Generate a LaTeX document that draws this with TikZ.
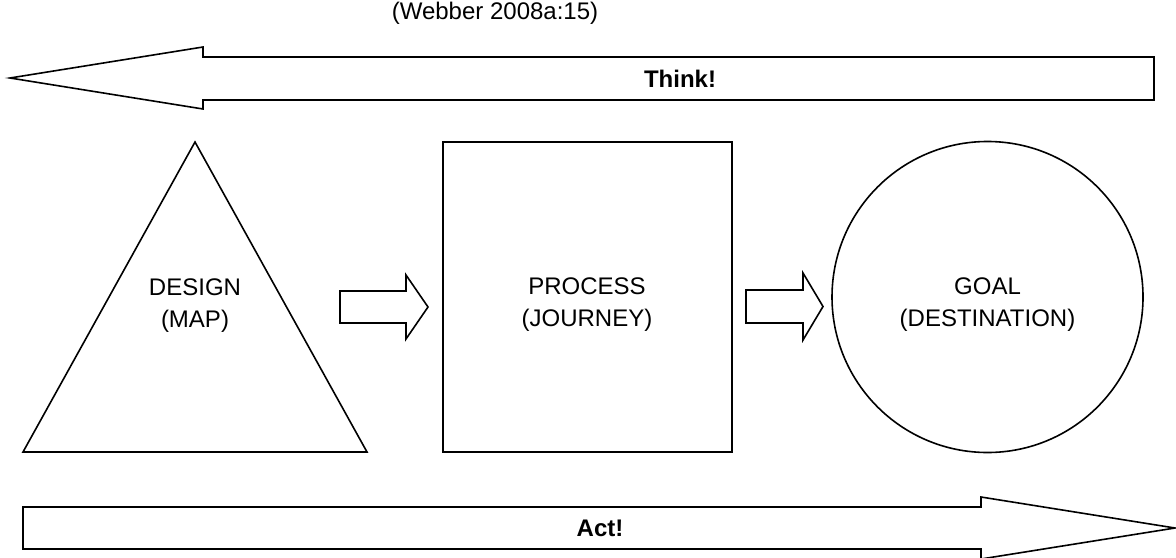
\documentclass[tikz,border=0pt]{standalone}
\usepackage{fontspec}
\setmainfont{Liberation Sans}
\begin{document}
\begin{tikzpicture}[x=0.5pt, y=-0.5pt, line width=0.8pt, line join=miter,
    label/.style={align=center, font=\fontsize{12}{16}\selectfont}]
  \useasboundingbox (0, 0) rectangle (1176, 557);
  % source
  \node (src) at (495, 13) {\fontsize{12}{14}\selectfont (Webber 2008a:15)};
  % think arrow, pointing left
  \draw (10, 78) -- (203, 47) -- (203, 57) -- (1154, 57) -- (1154, 100)
    -- (203, 100) -- (203, 109) -- cycle;
  \node (think) at (680, 79) {\fontsize{12}{14}\selectfont\bfseries Think!};
  % design
  \coordinate (T) at (195, 142);
  \draw (23, 452) -- (T) -- (367, 452) -- cycle;
  \node[label] (design) at (195, 306) {DESIGN\\(MAP)};
  % process
  \draw (443, 142) rectangle (732, 452);
  \node[label] (process) at (587, 305) {PROCESS\\(JOURNEY)};
  % goal
  \coordinate (G) at (987.5, 297);
  \draw (G) circle[radius=155.5];
  \node[label] (goal) at (G |- process) {GOAL\\(DESTINATION)};
  % small arrows
  \draw (340, 291) -- (406, 291) -- (406, 275) -- (428, 307) -- (406, 339)
    -- (406, 323) -- (340, 323) -- cycle;
  \draw (746, 290) -- (803, 290) -- (803, 273) -- (823, 306.5) -- (803, 340)
    -- (803, 323) -- (746, 323) -- cycle;
  % act arrow, pointing right
  \draw (23, 507) -- (981, 507) -- (981, 497) -- (1175, 528) -- (981, 559)
    -- (981, 549) -- (23, 549) -- cycle;
  \node (act) at (600, 528) {\fontsize{12}{14}\selectfont\bfseries Act!};
\end{tikzpicture}
\end{document}
